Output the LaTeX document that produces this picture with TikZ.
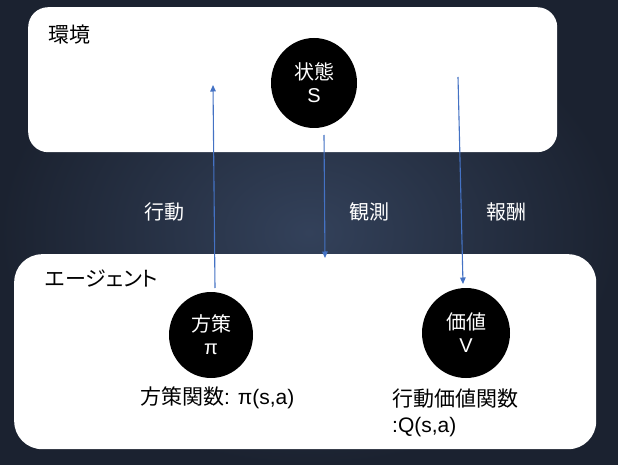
\documentclass[tikz,border=0pt]{standalone}
\usepackage{fontspec}
\setmainfont{Liberation Sans}
\newfontfamily\cjk{Noto Sans CJK JP}
\newfontfamily\cjkp[RawFeature=+palt]{Noto Sans CJK JP}
\usetikzlibrary{arrows.meta,shapes.geometric}
\definecolor{bgmid}{HTML}{33415A}
\definecolor{bgout}{HTML}{1B2230}
\definecolor{arrowblue}{HTML}{4472C4}
\tikzset{
  panel/.style={fill=white, draw=none},
  blob/.style={ellipse, fill=black, text=white, inner sep=0pt, align=center, font=\fontsize{20}{23}\selectfont},
  lbl/.style={inner sep=0pt, font=\fontsize{21}{26}\selectfont, align=left},
  midlbl/.style={inner sep=0pt, text=white, font=\fontsize{20}{24}\selectfont},
  link/.style={draw=arrowblue, line width=1.1pt, -{Triangle[length=6.5pt,width=5.5pt]}}
}
\begin{document}
\begin{tikzpicture}[x=1pt,y=-1pt]
\useasboundingbox (0,0) rectangle (618,465);
\shade[inner color=bgmid, outer color=bgout] (0,0) rectangle (618,465);
% panels
\node[panel, rounded corners=20pt, minimum width=529pt, minimum height=145pt, anchor=north west] (env) at (28,7) {};
\node[panel, rounded corners=28pt, minimum width=582pt, minimum height=195pt, anchor=north west] (agent) at (14,254) {};
% titles
\node[lbl, anchor=west] (envt) at (48,35) {\cjk 環境};
\node[lbl, anchor=west] (agentt) at (45,279) {\cjkp エージェント};
% circles
\node[blob, minimum width=86pt, minimum height=90pt] (S) at (314,83) {{\cjk 状態}\\S};
\node[blob, minimum width=84pt, minimum height=86pt] (P) at (211,335) {{\cjk 方策}\\π};
\node[blob, minimum width=88pt, minimum height=90pt] (V) at (466,333) {{\cjk 価値}\\V};
% labels under circles
\node[lbl, anchor=west] (Pl) at (140,398) {{\cjk 方策関数}: π(s,a)};
\node[lbl, anchor=north west] (Vl) at (392,389) {{\cjk 行動価値関数}\\:Q(s,a)};
% middle labels
\node[midlbl] (act) at (164,212) {\cjk 行動};
\node[midlbl] (obs) at (369,212) {\cjk 観測};
\node[midlbl] (rew) at (506,212) {\cjk 報酬};
% arrows
\coordinate (aStart) at (215,288);
\coordinate (aEnd) at (213,85);
\coordinate (oStart) at (324,135);
\coordinate (oEnd) at (325,258);
\coordinate (rStart) at (458,77);
\coordinate (rEnd) at (463,284);
\draw[link] (aStart) -- (aEnd);
\draw[link] (oStart) -- (oEnd);
\draw[link] (rStart) -- (rEnd);
\end{tikzpicture}
\end{document}
